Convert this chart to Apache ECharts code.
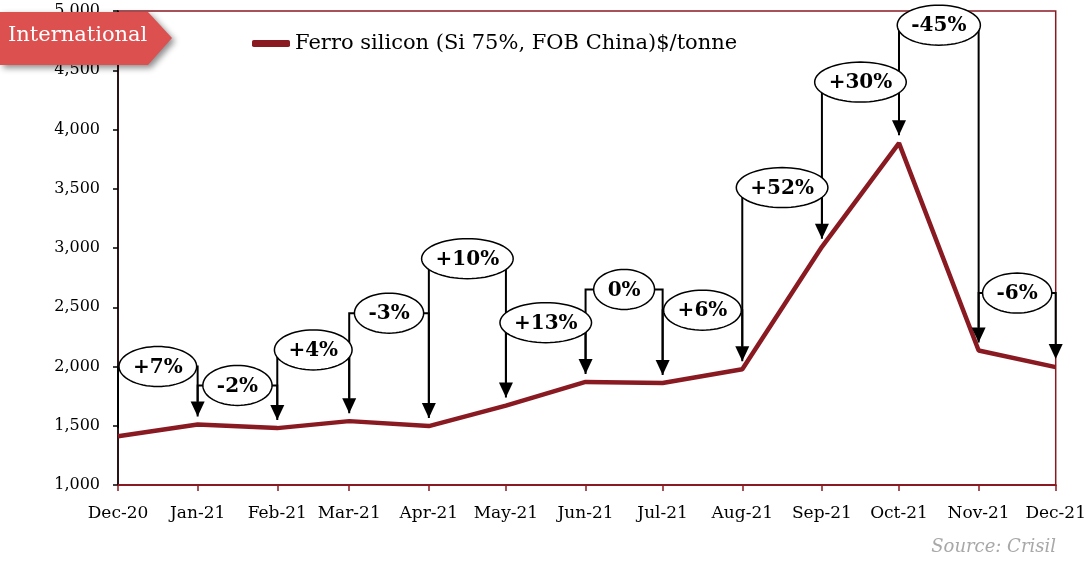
<!DOCTYPE html>
<html>
<head>
<meta http-equiv="Content-Type" content="text/html; charset=utf-8" />
<title>Ferro silicon</title>
<style type="text/css">
  html, body {height:100%; margin:0; padding:0; background:#fff;}
  #main {width:1089px; height:563px;}
</style>
<script type="text/javascript" src="https://cdn.jsdelivr.net/npm/echarts@6/dist/echarts.min.js"></script>
</head>
<body>
<div id="main"></div>
<script type="text/javascript">
// month labels and their dates (first of month)
var months = ['Dec-20', 'Jan-21', 'Feb-21', 'Mar-21', 'Apr-21', 'May-21', 'Jun-21',
              'Jul-21', 'Aug-21', 'Sep-21', 'Oct-21', 'Nov-21', 'Dec-21'];
var dates = ['2020-12-01', '2021-01-01', '2021-02-01', '2021-03-01', '2021-04-01', '2021-05-01',
             '2021-06-01', '2021-07-01', '2021-08-01', '2021-09-01', '2021-10-01', '2021-11-01', '2021-12-01'];
// $/tonne
var prices = [1412, 1510, 1480, 1539, 1497, 1670, 1870, 1860, 1977, 3010, 3885, 2135, 1995];
// month on month change, and the level (in $/tonne) where each bubble sits
var changes = ['+7%', '-2%', '+4%', '-3%', '+10%', '+13%', '0%', '+6%', '+52%', '+30%', '-45%', '-6%'];
var labelLevel = [2000, 1840, 2140, 2450, 2910, 2370, 2650, 2475, 3510, 4400, 4880, 2620];

var seriesName = 'Ferro silicon (Si 75%, FOB China)$/tonne';
var RED = '#8a1a22';
var FONT = '"DejaVu Serif", Georgia, serif';

// days since the first date, so months get their real widths
var DAY = 86400000;
var t0 = Date.UTC(2020, 11, 1);
var days = dates.map(function (d) {
  var p = d.split('-');
  return (Date.UTC(+p[0], +p[1] - 1, +p[2]) - t0) / DAY;
});
var lineData = days.map(function (t, i) { return [t, prices[i]]; });
var annData = [];
for (var i = 0; i < changes.length; i++) {
  annData.push([days[i], prices[i], days[i + 1], prices[i + 1], labelLevel[i]]);
}

var measureCtx = document.createElement('canvas').getContext('2d');
var bubbleFont = 'bold 20px ' + FONT;
measureCtx.font = bubbleFont;

function ellipsePoints(cx, cy, rx, ry) {
  var pts = [];
  for (var k = 0; k < 64; k++) {
    var a = k / 64 * Math.PI * 2;
    pts.push([cx + rx * Math.cos(a), cy + ry * Math.sin(a)]);
  }
  return pts;
}

var myChart = echarts.init(document.getElementById('main'));

myChart.setOption({
  animation: false,
  grid: {
    left: 118, right: 32, top: 11, bottom: 78,
    show: true, borderColor: RED, borderWidth: 1.5
  },
  legend: {
    left: 247, top: 28,
    data: [seriesName],
    icon: 'roundRect',
    itemWidth: 38, itemHeight: 7,
    textStyle: {fontFamily: FONT, fontSize: 21, color: '#000'}
  },
  xAxis: {
    type: 'value',
    min: days[0], max: days[days.length - 1],
    splitLine: {show: false},
    axisLine: {lineStyle: {color: RED, width: 2}},
    axisTick: {show: true, length: 6, lineStyle: {color: RED, width: 1.5}, customValues: days},
    axisLabel: {
      customValues: days,
      margin: 20,
      fontFamily: FONT, fontSize: 17, color: '#000',
      formatter: function (v) {
        var k = days.indexOf(v);
        return k >= 0 ? months[k] : '';
      }
    }
  },
  yAxis: {
    type: 'value',
    min: 1000, max: 5000, interval: 500,
    splitLine: {show: false},
    axisLine: {show: true, lineStyle: {color: '#000', width: 1.5}},
    axisTick: {show: true, length: 5, lineStyle: {color: '#000', width: 1.5}},
    axisLabel: {
      margin: 18,
      fontFamily: FONT, fontSize: 16, color: '#000',
      formatter: function (v) { return v.toLocaleString('en-US'); }
    }
  },
  series: [{
    name: seriesName,
    type: 'line',
    data: lineData,
    symbol: 'none',
    lineStyle: {color: RED, width: 4.5},
    itemStyle: {color: RED},
    z: 2
  }, {
    name: 'change',
    type: 'custom',
    data: annData,
    clip: false,
    z: 5,
    encode: {x: [0, 2], y: [1, 3, 4]},
    renderItem: function (params, api) {
      var p0 = api.coord([api.value(0), api.value(1)]);
      var p1 = api.coord([api.value(2), api.value(3)]);
      var yL = api.coord([api.value(0), api.value(4)])[1];
      var x0 = p0[0], x1 = p1[0];
      var tip0 = p0[1] - 8, tip1 = p1[1] - 8;
      var ah = 15, aw = 7;
      var txt = changes[params.dataIndex];
      var rx = measureCtx.measureText(txt).width / 2 + 14;
      var ry = 20;
      var cx = (x0 + x1) / 2;
      return {
        type: 'group',
        children: [{
          type: 'polyline',
          shape: {points: [[x0, tip0], [x0, yL], [x1, yL], [x1, tip1 - ah]]},
          style: {stroke: '#000', lineWidth: 2, fill: null},
          z2: 1
        }, {
          type: 'polygon',
          shape: {points: [[x1 - aw, tip1 - ah], [x1 + aw, tip1 - ah], [x1, tip1]]},
          style: {fill: '#000'},
          z2: 1
        }, {
          type: 'polygon',
          shape: {points: ellipsePoints(cx, yL, rx, ry)},
          style: {fill: '#fff', stroke: '#000', lineWidth: 1.5},
          z2: 10
        }, {
          type: 'text',
          x: cx, y: yL + 1,
          style: {text: txt, font: bubbleFont, fill: '#000', align: 'center', verticalAlign: 'middle'},
          z2: 11
        }]
      };
    }
  }],
  graphic: [{
    type: 'polygon',
    z: 20,
    shape: {points: [[0, 12], [148, 12], [172, 38], [148, 65], [0, 65]]},
    style: {
      fill: '#dc5050',
      shadowBlur: 6, shadowOffsetX: 3, shadowOffsetY: 3, shadowColor: 'rgba(0,0,0,0.45)'
    }
  }, {
    type: 'text',
    z: 21,
    left: 8, top: 25,
    style: {text: 'International', font: '21px ' + FONT, fill: '#fff'}
  }, {
    type: 'text',
    z: 21,
    right: 33, top: 538,
    style: {text: 'Source: Crisil', font: 'italic 18px ' + FONT, fill: '#a8a8a8'}
  }]
});
</script>
</body>
</html>
